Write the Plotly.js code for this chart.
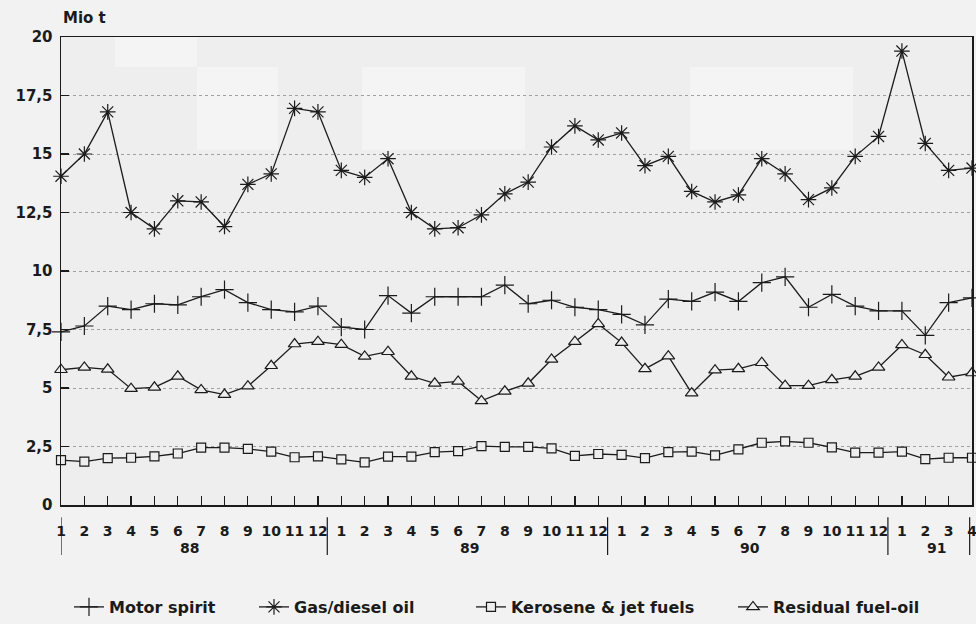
<!DOCTYPE html>
<html>
<head>
<meta charset="utf-8">
<script src="https://cdn.plot.ly/plotly-3.0.1.min.js"></script>
<style>html,body{margin:0;padding:0;background:#f2f2f2;}#chart{width:976px;height:624px;}</style>
</head>
<body>
<div id="chart"></div>
<script>
// Months Jan 1988 .. Apr 1991
var monthIndex = [];
for (var i = 1; i <= 40; i++) monthIndex.push(i);
var monthLabels = ["1","2","3","4","5","6","7","8","9","10","11","12",
                   "1","2","3","4","5","6","7","8","9","10","11","12",
                   "1","2","3","4","5","6","7","8","9","10","11","12",
                   "1","2","3","4"];
var yearLabels = ["88","89","90","91"];
var yearCenters = [6.5, 18.5, 30.5, 38.5];
var yearSeparators = [1, 12.4, 24.4, 36.4, 39.9];

var motorSpirit = [7.4,7.65,8.5,8.35,8.6,8.55,8.9,9.2,8.65,8.35,8.25,8.5,
                   7.6,7.5,8.95,8.2,8.9,8.9,8.9,9.4,8.6,8.75,8.45,8.35,
                   8.15,7.7,8.8,8.7,9.1,8.7,9.5,9.75,8.45,9.0,8.5,8.3,
                   8.3,7.25,8.65,8.85];
var gasDiesel = [14.05,15.0,16.8,12.5,11.8,13.0,12.95,11.9,13.7,14.15,16.95,16.8,
                 14.3,14.0,14.8,12.5,11.8,11.85,12.4,13.3,13.8,15.3,16.2,15.6,
                 15.9,14.5,14.9,13.4,12.95,13.25,14.8,14.15,13.05,13.55,14.9,15.75,
                 19.4,15.45,14.3,14.4];
var kerosene = [1.92,1.85,2.0,2.02,2.08,2.2,2.45,2.45,2.4,2.28,2.04,2.08,
                1.95,1.82,2.07,2.07,2.26,2.3,2.52,2.48,2.48,2.42,2.1,2.18,
                2.14,2.0,2.26,2.28,2.12,2.38,2.66,2.72,2.66,2.46,2.24,2.24,
                2.28,1.96,2.02,2.02];
var residual = [5.78,5.88,5.8,4.97,5.03,5.5,4.92,4.72,5.08,5.95,6.88,6.98,
                6.85,6.35,6.55,5.5,5.2,5.28,4.45,4.86,5.2,6.22,6.98,7.74,
                6.94,5.82,6.36,4.78,5.76,5.82,6.08,5.1,5.1,5.35,5.5,5.88,
                6.84,6.42,5.46,5.64];
var yTickVals = [0,2.5,5,7.5,10,12.5,15,17.5,20];
var yTickText = ["0","2,5","5","7,5","10","12,5","15","17,5","20"];
var seriesNames = ["Motor spirit","Gas/diesel oil","Kerosene & jet fuels","Residual fuel-oil"];

var ink = '#1b1b1b';
var bg = '#eeeeee';
var fontFam = 'DejaVu Sans, Liberation Sans, sans-serif';
function trace(name, y, symbol, size, fill, leg){
  return {
    type:'scatter', mode:'lines+markers', name:name, x:monthIndex, y:y,
    cliponaxis:false, legend:leg,
    line:{color:ink, width:1.3},
    marker:{symbol:symbol, size:size, color:fill, line:{color:ink, width:1.2}}
  };
}
var data = [
  trace(seriesNames[0], motorSpirit, 'cross-thin', 13, ink, 'legend'),
  trace(seriesNames[1], gasDiesel, 'asterisk', 13, ink, 'legend2'),
  trace(seriesNames[2], kerosene, 'square', 9, bg, 'legend3'),
  trace(seriesNames[3], residual, 'triangle-up', 11, bg, 'legend4')
];

function px2x(px){ return (px-61)/911; }
function px2y(py){ return (505-py)/468; }
var shapes = [];
// faint scan-like lighter patches in the background
[[115,197,37,67],[197,278,67,150],[362,525,67,150],[690,853,67,150]].forEach(function(r){
  shapes.push({type:'rect', xref:'paper', yref:'paper', layer:'below',
    x0:px2x(r[0]), x1:px2x(r[1]), y0:px2y(r[3]), y1:px2y(r[2]),
    fillcolor:'#f4f4f4', line:{width:0}});
});
yearSeparators.forEach(function(xv){
  shapes.push({type:'line', xref:'x', yref:'paper', x0:xv, x1:xv,
          y0:-0.026, y1:-0.107, line:{color:ink, width:1.2}});
});
var annotations = yearLabels.map(function(t, k){
  return {text:t, xref:'x', yref:'paper', x:yearCenters[k], y:-0.092,
          showarrow:false, xanchor:'center', yanchor:'middle',
          font:{family:fontFam, size:14, color:ink, weight:'bold'}};
});
annotations.push({text:'Mio t', xref:'paper', yref:'paper', x:0, y:1.04,
  showarrow:false, xanchor:'left', yanchor:'middle',
  font:{family:fontFam, size:15, color:ink, weight:'bold'}});

function leg(px){
  return {orientation:'h', xref:'container', yref:'container', x:px/976, xanchor:'left',
          y:1-607/624, yanchor:'middle', bgcolor:'rgba(0,0,0,0)', itemwidth:30,
          font:{family:fontFam, size:16, color:ink, weight:'bold'}};
}

var layout = {
  width:976, height:624,
  margin:{l:61, r:4, t:37, b:119},
  paper_bgcolor:'#f2f2f2', plot_bgcolor:bg,
  font:{family:fontFam, size:14, color:ink, weight:'bold'},
  showlegend:true,
  legend:leg(69), legend2:leg(254), legend3:leg(471), legend4:leg(733),
  xaxis:{range:[1,40], tickvals:monthIndex, ticktext:monthLabels,
         ticks:'inside', ticklen:9, tickcolor:ink, tickwidth:1.2,
         showline:true, linecolor:ink, linewidth:1.5, mirror:true,
         showgrid:false, zeroline:false, ticklabelstandoff:13, ticklabeloverflow:'allow',
         tickfont:{family:fontFam, size:14, color:ink, weight:'bold'}},
  yaxis:{range:[0,20], tickvals:yTickVals, ticktext:yTickText,
         ticks:'inside', ticklen:8, tickcolor:ink, tickwidth:1.2,
         showline:true, linecolor:ink, linewidth:1.5, mirror:true,
         showgrid:true, gridcolor:'#a0a0a0', griddash:'dot', gridwidth:1,
         zeroline:false, ticklabelstandoff:4,
         tickfont:{family:fontFam, size:15, color:ink, weight:'bold'}},
  shapes:shapes,
  annotations:annotations
};
Plotly.newPlot('chart', data, layout, {displayModeBar:false, staticPlot:true});
</script>
</body>
</html>
